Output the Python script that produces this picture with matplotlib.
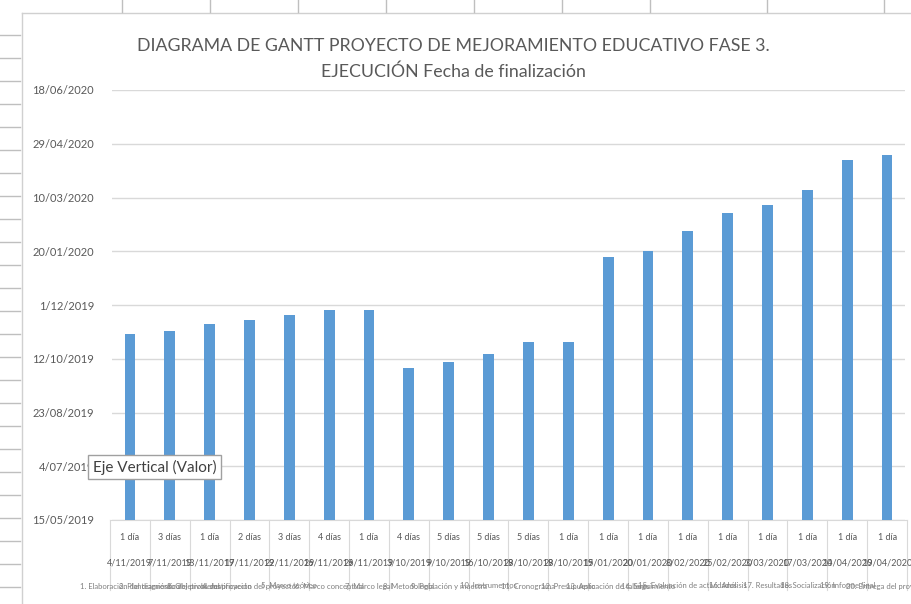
import numpy as np
import matplotlib
matplotlib.use('Agg')
import matplotlib.pyplot as plt
import matplotlib.dates as mdates
import matplotlib.transforms as mtransforms
from matplotlib.ticker import FixedLocator, FuncFormatter
from datetime import date, timedelta

plt.rcParams['font.family'] = ['Lato', 'DejaVu Sans']

# datos
fin = ['2019-11-04', '2019-11-07', '2019-11-13', '2019-11-17', '2019-11-22',
       '2019-11-26', '2019-11-26', '2019-10-03', '2019-10-09', '2019-10-16',
       '2019-10-28', '2019-10-28', '2020-01-15', '2020-01-20', '2020-02-08',
       '2020-02-25', '2020-03-03', '2020-03-17', '2020-04-14', '2020-04-19']
duracion = ['1 día', '3 días', '1 día', '2 días', '3 días', '4 días', '1 día',
            '4 días', '5 días', '5 días', '5 días', '1 día', '1 día', '1 día',
            '1 día', '1 día', '1 día', '1 día', '1 día', '1 día']
actividades = ['1. Elaboración del diagnóstico', '2. Planteamiento del problema',
               '3. Objetivos del proyecto', '4. Justificación del proyecto',
               '5. Marco teórico', '6. Marco conceptual', '7. Marco legal',
               '8. Metodología', '9. Población y muestra', '10. Instrumentos',
               '11. Cronograma', '12. Presupuesto', '13. Aplicación de talleres',
               '14. Seguimiento', '15. Evaluación de actividades', '16. Análisis',
               '17. Resultados', '18. Socialización', '19. Informe final',
               '20. Entrega del proyecto']

base = date(2019, 5, 15)
ticks_y = [base + timedelta(days=50 * i) for i in range(9)]

fechas = [date.fromisoformat(f) for f in fin]
y_fin = mdates.date2num(fechas)
y0 = mdates.date2num(base)
x = np.arange(len(fechas))


def fmt_fecha(d):
    return '{}/{:02d}/{}'.format(d.day, d.month, d.year)


fig = plt.figure(figsize=(9.12, 6.04), dpi=100)
ax = fig.add_axes([112 / 912, 1 - 520 / 604, (905 - 112) / 912, (520 - 90) / 604])

ax.bar(x, y_fin - y0, bottom=y0, width=0.27, color='#5B9BD5', zorder=3)

ax.set_xlim(-0.45, len(x) - 0.55)
ax.set_ylim(y0, mdates.date2num(ticks_y[-1]))
ax.yaxis.set_major_locator(FixedLocator(mdates.date2num(ticks_y)))
ax.yaxis.set_major_formatter(FuncFormatter(lambda v, p: fmt_fecha(mdates.num2date(v))))
ax.tick_params(axis='y', length=0, labelsize=8, labelcolor='#595959', pad=13)
ax.grid(axis='y', color='#D9D9D9', linewidth=1, zorder=0)
ax.set_xticks([])
for s in ax.spines.values():
    s.set_visible(False)

# tabla de categorias bajo el eje
trans = mtransforms.blended_transform_factory(ax.transData, ax.transAxes)
h_px = 430.0
for i in x:
    ax.text(i, -18 / h_px, duracion[i], transform=trans, ha='center', va='center',
            fontsize=6.5, color='#595959')
    ax.text(i, -43 / h_px, fmt_fecha(fechas[i]), transform=trans, ha='center',
            va='center', fontsize=6.5, color='#595959')
    ax.text(i, -66 / h_px, actividades[i], transform=trans, ha='center', va='center',
            fontsize=5.5, color='#7F7F7F')
for i in np.arange(len(x) + 1) - 0.5:
    ax.plot([i, i], [0, -70 / h_px], transform=trans, color='#D9D9D9', lw=0.8,
            clip_on=False)
ax.plot([-0.5, len(x) - 0.5], [0, 0], transform=trans, color='#D9D9D9', lw=0.8,
        clip_on=False)

fig.text(0.497, 1 - 46 / 604, 'DIAGRAMA DE GANTT PROYECTO DE MEJORAMIENTO EDUCATIVO FASE 3.',
         ha='center', va='center', fontsize=12.8, color='#595959')
fig.text(0.497, 1 - 72 / 604, 'EJECUCIÓN Fecha de finalización',
         ha='center', va='center', fontsize=12.8, color='#595959')

# marco de la hoja
fig.add_artist(plt.Line2D([22 / 912, 22 / 912], [0, 1 - 13 / 604], color='#D0D0D0', lw=1))
fig.add_artist(plt.Line2D([22 / 912, 1], [1 - 13 / 604, 1 - 13 / 604], color='#D0D0D0', lw=1))
for xp in [122, 210, 298, 386, 474, 562, 650, 767, 884]:
    fig.add_artist(plt.Line2D([xp / 912, xp / 912], [1, 1 - 12 / 604], color='#BFBFBF', lw=1))
for yp in range(35, 604, 23):
    fig.add_artist(plt.Line2D([0, 20 / 912], [1 - yp / 604, 1 - yp / 604], color='#BFBFBF', lw=1))

fig.text(93 / 912, 1 - 467 / 604, 'Eje Vertical (Valor)', ha='left', va='center',
         fontsize=11, color='#404040',
         bbox=dict(boxstyle='square,pad=0.3', fc='white', ec='#A0A0A0', lw=1))

fig.savefig('out.png', dpi=100)
